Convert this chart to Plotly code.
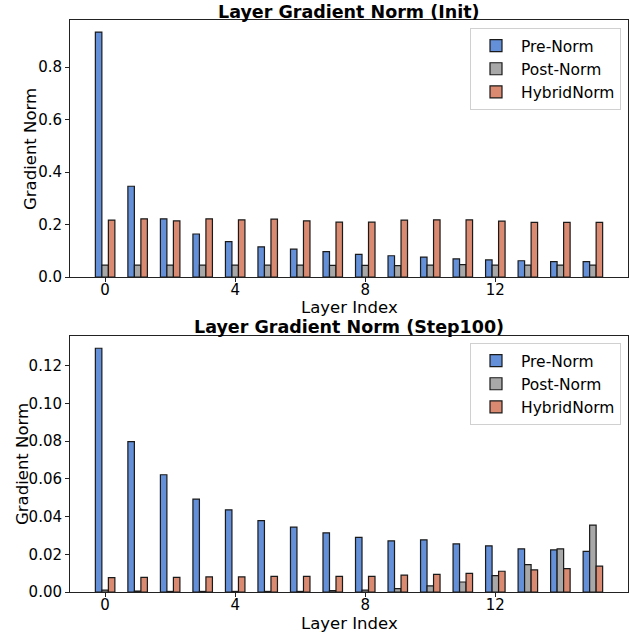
import plotly.graph_objects as go

layers = list(range(16))
series_names = ["Pre-Norm", "Post-Norm", "HybridNorm"]

init_pre = [0.934, 0.346, 0.222, 0.164, 0.135, 0.115, 0.106, 0.097,
            0.086, 0.081, 0.076, 0.069, 0.065, 0.062, 0.059, 0.059]
init_post = [0.045, 0.045, 0.045, 0.045, 0.045, 0.045, 0.045, 0.044,
             0.044, 0.043, 0.045, 0.047, 0.045, 0.045, 0.045, 0.045]
init_hybrid = [0.217, 0.222, 0.214, 0.222, 0.218, 0.221, 0.214, 0.209,
               0.209, 0.217, 0.218, 0.218, 0.213, 0.208, 0.208, 0.208]

step_pre = [0.1293, 0.0798, 0.0622, 0.0493, 0.0436, 0.0379, 0.0344, 0.0314,
            0.0290, 0.0271, 0.0277, 0.0255, 0.0245, 0.0229, 0.0223, 0.0216]
step_post = [0.0010, 0.0005, 0.0003, 0.0003, 0.0003, 0.0003, 0.0003, 0.0007,
             0.0010, 0.0018, 0.0032, 0.0053, 0.0087, 0.0145, 0.0229, 0.0355]
step_hybrid = [0.0076, 0.0078, 0.0078, 0.0080, 0.0080, 0.0083, 0.0083, 0.0083,
               0.0083, 0.0090, 0.0094, 0.0099, 0.0110, 0.0117, 0.0124, 0.0137]

x_ticks = [0, 4, 8, 12]
titles = ["Layer Gradient Norm (Init)", "Layer Gradient Norm (Step100)"]
x_title = "Layer Index"
y_title = "Gradient Norm"

colors = ["#6390D8", "#A8A8A8", "#D98A70"]
offsets = [-0.3, -0.1, 0.1]
FONT = "DejaVu Sans"

fig = go.Figure()

panels = [
    ((init_pre, init_post, init_hybrid), "x", "y", "legend"),
    ((step_pre, step_post, step_hybrid), "x2", "y2", "legend2"),
]
for vals3, xa, ya, leg in panels:
    for name, vals, col, off in zip(series_names, vals3, colors, offsets):
        fig.add_trace(go.Bar(
            x=layers, y=vals, name=name, xaxis=xa, yaxis=ya, legend=leg,
            width=0.2, offset=off,
            marker=dict(color=col, line=dict(color="#1a1a1a", width=1.2)),
        ))

W, H = 630, 635
xd = [70 / W, 628 / W]
top_y = [1 - 277 / H, 1 - 20 / H]
bot_y = [1 - 592 / H, 1 - 336 / H]

axis_common = dict(
    showline=True, linecolor="#222222", linewidth=1, mirror=True,
    ticks="outside", ticklen=4, tickcolor="#222222",
    showgrid=False, zeroline=False, automargin=False,
    tickfont=dict(family=FONT, size=15, color="black"),
)
legend_common = dict(
    xanchor="right", yanchor="top",
    bgcolor="rgba(255,255,255,0.8)", bordercolor="#d0d0d0", borderwidth=1,
    font=dict(family=FONT, size=15.5, color="black"), itemwidth=40,
    tracegroupgap=0,
)


def txt(text, x, y, size, bold=False, angle=0, xa="center", ya="middle"):
    return dict(text=("<b>" + text + "</b>") if bold else text, x=x, y=y,
                xref="paper", yref="paper", xanchor=xa, yanchor=ya,
                showarrow=False, textangle=angle, borderpad=0,
                font=dict(family=FONT, size=size, color="black"))


xc = (xd[0] + xd[1]) / 2
annotations = [
    txt(titles[0], xc, 1 - 12 / H, 17.5, bold=True),
    txt(titles[1], xc, 1 - 327 / H, 17.5, bold=True),
    txt(x_title, xc, 1 - 307.5 / H, 16.5),
    txt(x_title, xc, 1 - 623.5 / H, 16.5),
    txt(y_title, 30 / W, 1 - 149 / H, 16.5, angle=-90),
    txt(y_title, 22 / W, 1 - 464 / H, 16.5, angle=-90),
]

fig.update_layout(
    width=W, height=H,
    margin=dict(l=0, r=0, t=0, b=0, autoexpand=False),
    plot_bgcolor="white", paper_bgcolor="white",
    barmode="overlay",
    font=dict(family=FONT, color="black"),
    xaxis=dict(domain=xd, anchor="y", range=[-1.08, 16.08], tickvals=x_ticks,
               ticklabelstandoff=-5, **axis_common),
    yaxis=dict(domain=top_y, anchor="x", range=[0, 0.98],
               tickvals=[0, 0.2, 0.4, 0.6, 0.8], tickformat=".1f",
               **axis_common),
    xaxis2=dict(domain=xd, anchor="y2", range=[-1.08, 16.08], tickvals=x_ticks,
                ticklabelstandoff=-5, **axis_common),
    yaxis2=dict(domain=bot_y, anchor="x2", range=[0, 0.1358],
                tickvals=[0, 0.02, 0.04, 0.06, 0.08, 0.10, 0.12], tickformat=".2f",
                **axis_common),
    legend=dict(x=621 / W, y=1 - 28 / H, **legend_common),
    legend2=dict(x=621 / W, y=1 - 343 / H, **legend_common),
    annotations=annotations,
)

fig.write_html("out.html", config={"displayModeBar": False},
               post_script="document.body.style.margin='0';document.body.style.overflow='hidden';")
